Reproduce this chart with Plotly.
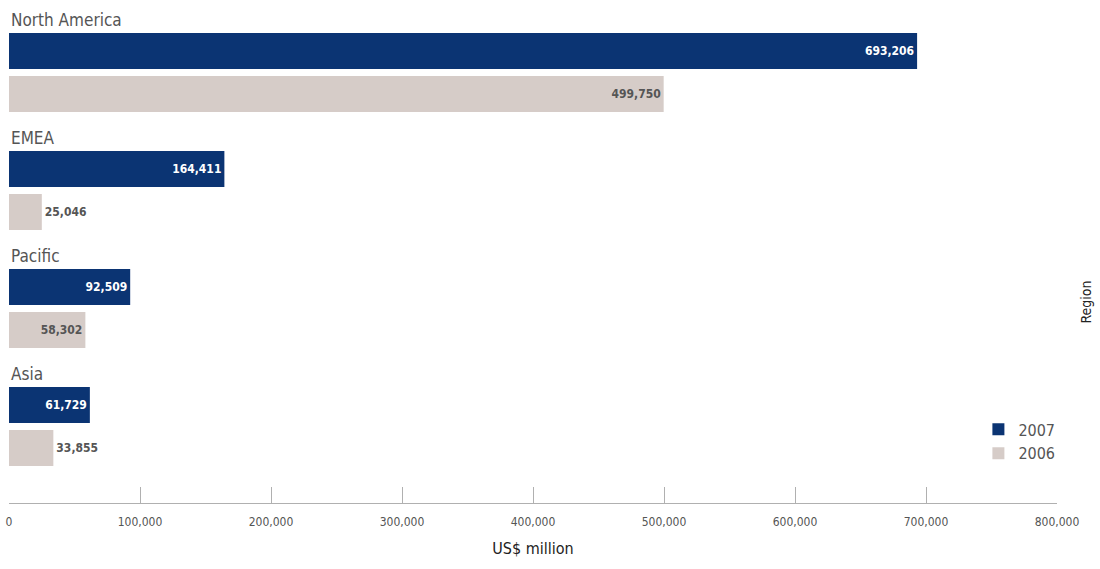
import plotly.graph_objects as go

regions = ["North America", "EMEA", "Pacific", "Asia"]
values_2007 = [693206, 164411, 92509, 61729]
values_2006 = [499750, 25046, 58302, 33855]
labels_2007 = ["693,206", "164,411", "92,509", "61,729"]
labels_2006 = ["499,750", "25,046", "58,302", "33,855"]
x_ticks = [0, 100000, 200000, 300000, 400000, 500000, 600000, 700000, 800000]

NAVY = "#0b3473"
TAUPE = "#d6ccc8"
FONT = "Liberation Sans Narrow, DejaVu Sans Condensed, Arial Narrow, sans-serif"

period = 2.744
pos07 = [i * period for i in range(len(regions))]
pos06 = [p + 1 for p in pos07]
pos_lbl = [p - 0.72 for p in pos07]

pos06_text = ["inside" if v > 50000 else "outside" for v in values_2006]

fig = go.Figure()
fig.add_trace(go.Bar(
    x=values_2007, y=pos07, orientation="h", name="2007",
    marker=dict(color=NAVY, line=dict(width=0)), width=0.84,
    text=labels_2007, textposition="inside", insidetextanchor="end",
    textfont=dict(color="white", size=12, family="DejaVu Sans Condensed, sans-serif", weight="bold"),
    constraintext="none", cliponaxis=False,
))
fig.add_trace(go.Bar(
    x=values_2006, y=pos06, orientation="h", name="2006",
    marker=dict(color=TAUPE, line=dict(width=0)), width=0.84,
    text=labels_2006, textposition=pos06_text, insidetextanchor="end",
    textfont=dict(color="#555555", size=12, family="DejaVu Sans Condensed, sans-serif", weight="bold"),
    constraintext="none", cliponaxis=False,
))

for r, p in zip(regions, pos_lbl):
    fig.add_annotation(x=0, y=p, xref="x", yref="y", text=r, showarrow=False,
                       xanchor="left", yanchor="middle",
                       font=dict(family=FONT, size=17, color="#555555"))

fig.add_annotation(x=1.037, y=0.40, xref="paper", yref="paper", text="Region",
                   showarrow=False, textangle=-90,
                   font=dict(family=FONT, size=14, color="#222222"))

fig.update_layout(
    width=1100, height=569,
    margin=dict(l=9, r=43, t=0, b=66),
    paper_bgcolor="white", plot_bgcolor="white",
    barmode="overlay", showlegend=True,
    legend=dict(x=0.925, y=0.18, xanchor="left", yanchor="top",
                bgcolor="rgba(0,0,0,0)", traceorder="normal",
                font=dict(family=FONT, size=16, color="#555555"),
                itemwidth=30, tracegroupgap=0),
    xaxis=dict(range=[0, 800000], tickvals=x_ticks, tickformat=",",
               ticks="inside", ticklen=16, tickcolor="#b0b0b0",
               showline=True, linecolor="#b0b0b0", linewidth=1,
               showgrid=False, zeroline=False, ticklabelstandoff=8,
               tickfont=dict(family=FONT, size=12, color="#555555"),
               title=dict(text="US$ million", standoff=14,
                          font=dict(family=FONT, size=16, color="#222222"))),
    yaxis=dict(range=[10.51, -1.186], showticklabels=False, showgrid=False,
               zeroline=False, showline=False, ticks=""),
)

fig.write_html("out.html")
